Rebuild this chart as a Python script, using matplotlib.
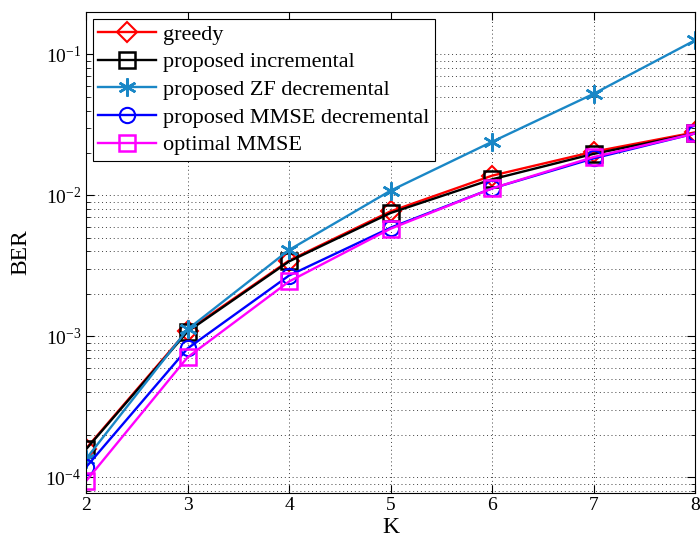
import matplotlib
matplotlib.use('Agg')
import matplotlib.pyplot as plt
from matplotlib.ticker import LogLocator, NullFormatter, FixedLocator

plt.rcParams['font.family'] = ['Liberation Serif', 'DejaVu Serif']
plt.rcParams['mathtext.fontset'] = 'custom'
plt.rcParams['mathtext.rm'] = 'Liberation Serif'
plt.rcParams['axes.unicode_minus'] = False

# BER vs K
K = [2, 3, 4, 5, 6, 7, 8]
greedy = [1.6e-4, 1.1e-3, 3.45e-3, 7.7e-3, 1.38e-2, 2.04e-2, 2.8e-2]
incremental = [1.58e-4, 1.08e-3, 3.4e-3, 7.5e-3, 1.3e-2, 1.97e-2, 2.75e-2]
zf_decremental = [1.35e-4, 1.12e-3, 4.1e-3, 1.08e-2, 2.4e-2, 5.25e-2, 0.126]
mmse_decremental = [1.18e-4, 8.2e-4, 2.7e-3, 5.9e-3, 1.12e-2, 1.83e-2, 2.75e-2]
optimal_mmse = [9.4e-5, 7.1e-4, 2.45e-3, 5.8e-3, 1.12e-2, 1.87e-2, 2.75e-2]

labels = ['greedy', 'proposed incremental', 'proposed ZF decremental',
          'proposed MMSE decremental', 'optimal MMSE']

fig = plt.figure(figsize=(7.0, 5.45), dpi=100)
ax = fig.add_axes([0.1229, 0.0963, 0.8700, 0.8817])

lw = 1.7
ax.plot(K, greedy, color='red', lw=lw, marker='D', ms=10, mfc='none', mew=1.5, label=labels[0])
ax.plot(K, incremental, color='black', lw=lw, marker='s', ms=11, mfc='none', mew=1.8, label=labels[1])
ax.plot(K, zf_decremental, color='#1a87c6', lw=lw, marker=(6, 2, 0), ms=13, mew=1.8, label=labels[2])
ax.plot(K, mmse_decremental, color='blue', lw=lw, marker='o', ms=11, mfc='none', mew=1.5, label=labels[3])
ax.plot(K, optimal_mmse, color='magenta', lw=lw, marker='s', ms=11, mfc='none', mew=1.8, label=labels[4])

ax.set_yscale('log')
ax.set_xlim(2, 8)
ax.set_ylim(7.8e-5, 0.2)
ax.xaxis.set_major_locator(FixedLocator(K))
ax.yaxis.set_major_locator(LogLocator(base=10, numticks=10))
ax.yaxis.set_minor_locator(LogLocator(base=10, subs=range(2, 10), numticks=20))
ax.yaxis.set_minor_formatter(NullFormatter())

dots = (0, (1, 3))
ax.grid(True, which='major', linestyle=dots, color='0.25', lw=0.7)
ax.grid(True, which='minor', axis='y', linestyle=dots, color='0.25', lw=0.7)
ax.tick_params(which='both', direction='in', top=True, right=True, labelsize=14)
ax.tick_params(which='major', length=6)
ax.tick_params(which='minor', length=3)
for s in ax.spines.values():
    s.set_linewidth(0.8)

ax.set_xlabel('K', fontsize=17, labelpad=2)
ax.set_ylabel('BER', fontsize=17, labelpad=10)

leg = ax.legend(loc='upper left', fontsize=16, frameon=True, fancybox=False,
                edgecolor='black', framealpha=1, borderaxespad=0.3,
                handlelength=2.6, labelspacing=0.32, borderpad=0.25, handletextpad=0.3)
leg.get_frame().set_linewidth(0.8)

fig.savefig('out.png', dpi=100)
